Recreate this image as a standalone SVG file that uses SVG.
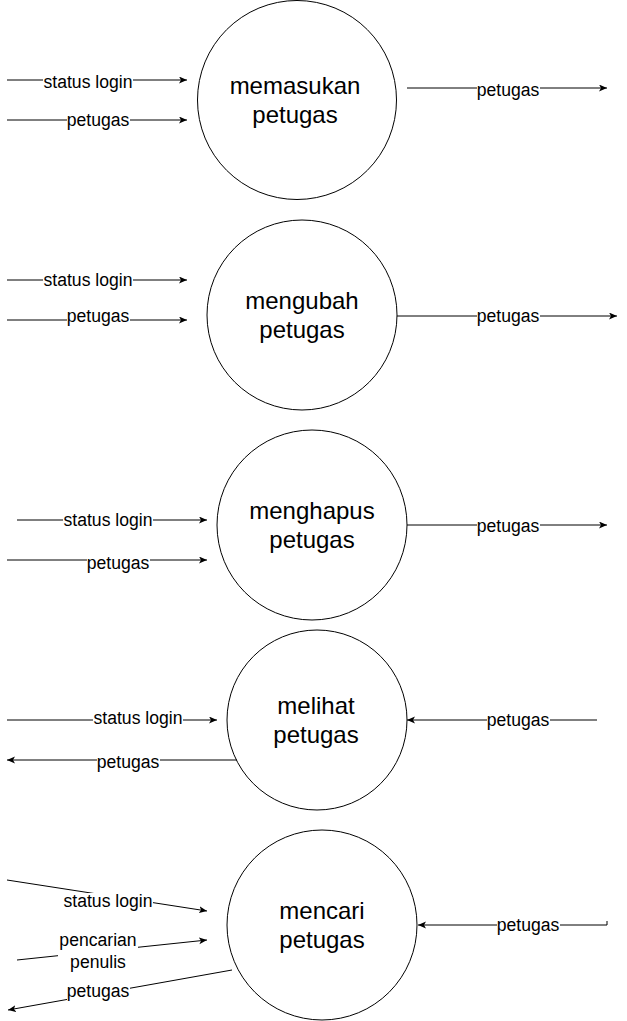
<svg xmlns="http://www.w3.org/2000/svg" width="627" height="1021" viewBox="0 0 627 1021">
<style>
.node{fill:#fff;stroke:#000;stroke-width:1}
.nt{font-family:"Liberation Sans",Arial,sans-serif;font-size:24px;fill:#000;text-anchor:middle}
.edge{fill:none;stroke:#000;stroke-width:1}
.lt{font-family:"Liberation Sans",Arial,sans-serif;font-size:17.6px;fill:#000;text-anchor:middle}
.bg{fill:#fff}
</style>
<defs>
<marker id="arr" markerUnits="userSpaceOnUse" markerWidth="9" markerHeight="8" refX="8" refY="3.5" orient="auto">
<path d="M0,0 L8,3.5 L0,7 L2,3.5 z" fill="#000"/>
</marker>
</defs>
<rect width="627" height="1021" fill="#fff"/>
<g id="nodes">
<g id="n1"><circle class="node" cx="297" cy="100" r="99.5"/><text class="nt" x="295" y="94">memasukan</text><text class="nt" x="295" y="123">petugas</text></g>
<g id="n2"><circle class="node" cx="302" cy="315" r="95"/><text class="nt" x="302" y="309">mengubah</text><text class="nt" x="302" y="338">petugas</text></g>
<g id="n3"><circle class="node" cx="312" cy="525" r="95"/><text class="nt" x="312" y="519">menghapus</text><text class="nt" x="312" y="548">petugas</text></g>
<g id="n4"><circle class="node" cx="317" cy="720" r="90"/><text class="nt" x="316" y="714">melihat</text><text class="nt" x="316" y="743">petugas</text></g>
<g id="n5"><circle class="node" cx="322" cy="925" r="95"/><text class="nt" x="322" y="919">mencari</text><text class="nt" x="322" y="948">petugas</text></g>
</g>
<g id="connectors">
<!-- section 1 -->
<path class="edge" d="M7,80 L187,80" marker-end="url(#arr)"/>
<rect class="bg" x="43" y="72" width="90" height="18"/><text class="lt" x="88" y="88">status login</text>
<path class="edge" d="M7,120 L187,120" marker-end="url(#arr)"/>
<rect class="bg" x="67" y="112" width="63" height="18"/><text class="lt" x="98" y="126">petugas</text>
<path class="edge" d="M407,88 L607,88" marker-end="url(#arr)"/>
<rect class="bg" x="477" y="82" width="63" height="18"/><text class="lt" x="508" y="96">petugas</text>
<!-- section 2 -->
<path class="edge" d="M7,280 L187,280" marker-end="url(#arr)"/>
<rect class="bg" x="43" y="272" width="90" height="18"/><text class="lt" x="88" y="286">status login</text>
<path class="edge" d="M7,320 L187,320" marker-end="url(#arr)"/>
<rect class="bg" x="67" y="308" width="63" height="18"/><text class="lt" x="98" y="322">petugas</text>
<path class="edge" d="M397,316 L617,316" marker-end="url(#arr)"/>
<rect class="bg" x="477" y="308" width="63" height="18"/><text class="lt" x="508" y="322">petugas</text>
<!-- section 3 -->
<path class="edge" d="M17,520 L207,520" marker-end="url(#arr)"/>
<rect class="bg" x="63" y="512" width="90" height="18"/><text class="lt" x="108" y="526">status login</text>
<path class="edge" d="M7,560 L207,560" marker-end="url(#arr)"/>
<rect class="bg" x="87" y="555" width="63" height="18"/><text class="lt" x="118" y="569">petugas</text>
<path class="edge" d="M407,525 L607,525" marker-end="url(#arr)"/>
<rect class="bg" x="477" y="518" width="63" height="18"/><text class="lt" x="508" y="532">petugas</text>
<!-- section 4 -->
<path class="edge" d="M7,720 L217,720" marker-end="url(#arr)"/>
<rect class="bg" x="93" y="710" width="90" height="18"/><text class="lt" x="138" y="724">status login</text>
<path class="edge" d="M237,760 L7,760" marker-end="url(#arr)"/>
<rect class="bg" x="97" y="754" width="63" height="18"/><text class="lt" x="128" y="768">petugas</text>
<path class="edge" d="M597,720 L407,720" marker-end="url(#arr)"/>
<rect class="bg" x="487" y="712" width="63" height="18"/><text class="lt" x="518" y="726">petugas</text>
<!-- section 5 -->
<path class="edge" d="M7,880 L207,911" marker-end="url(#arr)"/>
<rect class="bg" x="63" y="893" width="90" height="18"/><text class="lt" x="108" y="907">status login</text>
<path class="edge" d="M17,960 L207,940" marker-end="url(#arr)"/>
<rect class="bg" x="58" y="930" width="80" height="42"/><text class="lt" x="98" y="946">pencarian</text><text class="lt" x="98" y="968">penulis</text>
<path class="edge" d="M232,970 L8,1010" marker-end="url(#arr)"/>
<rect class="bg" x="67" y="983" width="63" height="18"/><text class="lt" x="98" y="997">petugas</text>
<path class="edge" d="M607,921 L607,925 L418,925" marker-end="url(#arr)"/>
<rect class="bg" x="497" y="917" width="63" height="18"/><text class="lt" x="528" y="931">petugas</text>
</g>
</svg>
